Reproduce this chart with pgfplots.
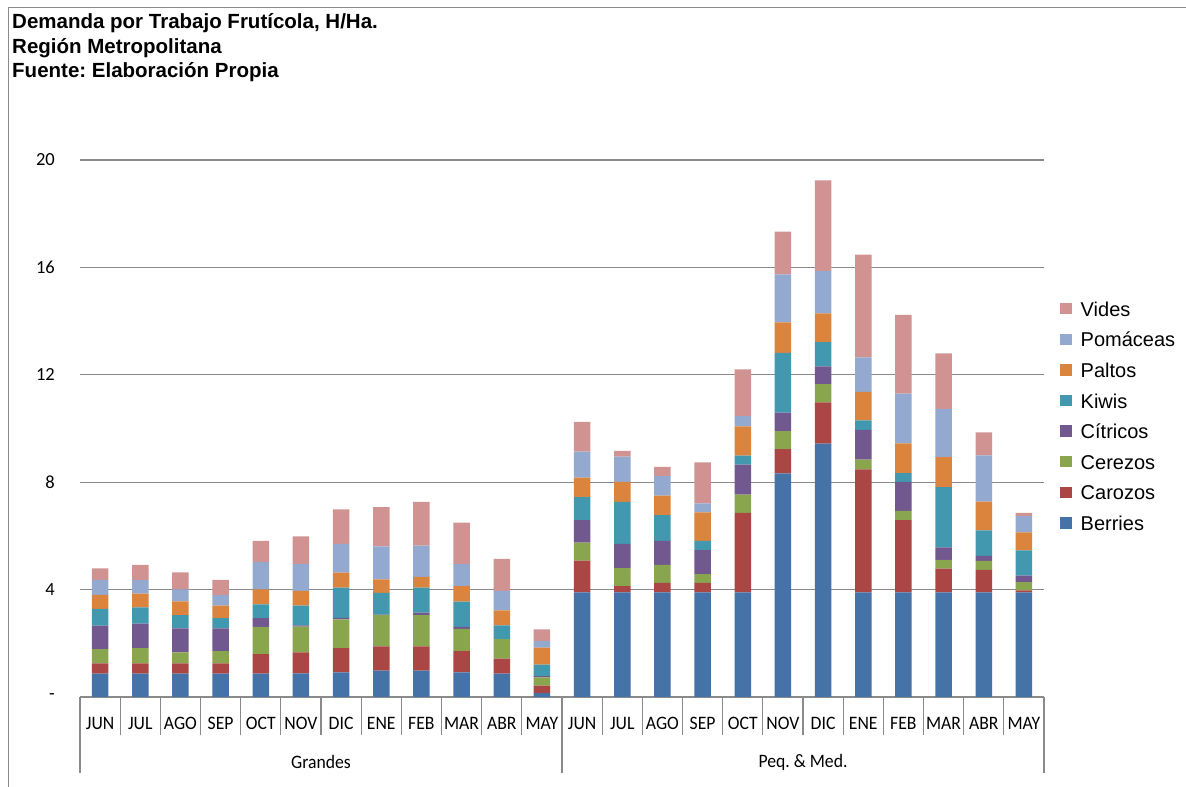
\documentclass[border=0pt]{standalone}
\usepackage{pgfplots}
\usepackage{pgfplotstable}
\pgfplotsset{compat=1.18}
\usepackage{fontspec}
\setmainfont{Liberation Sans}
\newfontfamily\carlito{Carlito}
\frenchspacing
\definecolor{cB}{HTML}{4572A7}
\definecolor{cCar}{HTML}{AA4643}
\definecolor{cCer}{HTML}{89A54E}
\definecolor{cCit}{HTML}{71588F}
\definecolor{cK}{HTML}{4198AF}
\definecolor{cP}{HTML}{DB843D}
\definecolor{cPom}{HTML}{93A9CF}
\definecolor{cV}{HTML}{D19392}
\definecolor{gridgray}{HTML}{8A8A8A}
\pgfplotstableread{
x  B    Car  Cer  Cit  K    P    Pom  V
0  0.87 0.38 0.53 0.88 0.62 0.52 0.56 0.43
1  0.87 0.38 0.57 0.91 0.61 0.51 0.51 0.56
2  0.87 0.38 0.41 0.90 0.49 0.51 0.45 0.63
3  0.87 0.38 0.46 0.85 0.38 0.46 0.39 0.57
4  0.87 0.73 1.01 0.33 0.51 0.56 1.02 0.78
5  0.88 0.78 0.96 0.05 0.73 0.55 1.01 1.02
6  0.92 0.90 1.07 0.06 1.12 0.56 1.07 1.29
7  0.98 0.91 1.16 0.02 0.81 0.50 1.23 1.46
8  0.98 0.91 1.16 0.09 0.93 0.40 1.17 1.63
9  0.92 0.79 0.83 0.07 0.94 0.58 0.83 1.53
10 0.87 0.56 0.73 0.00 0.51 0.56 0.72 1.19
11 0.14 0.28 0.31 0.05 0.43 0.63 0.24 0.44
12 3.90 1.18 0.67 0.84 0.85 0.73 0.97 1.11
13 3.90 0.23 0.67 0.90 1.57 0.74 0.94 0.22
14 3.90 0.35 0.67 0.89 0.96 0.73 0.73 0.34
15 3.90 0.35 0.33 0.89 0.34 1.07 0.33 1.53
16 3.90 2.96 0.68 1.11 0.34 1.09 0.38 1.74
17 8.33 0.90 0.67 0.69 2.23 1.13 1.79 1.59
18 9.44 1.53 0.68 0.66 0.91 1.07 1.58 3.37
19 3.90 4.58 0.36 1.11 0.35 1.06 1.29 3.83
20 3.90 2.69 0.34 1.08 0.33 1.11 1.85 2.93
21 3.90 0.88 0.33 0.46 2.25 1.11 1.80 2.07
22 3.90 0.83 0.34 0.19 0.95 1.07 1.72 0.86
23 3.90 0.07 0.31 0.24 0.94 0.67 0.61 0.12
}\data
\begin{document}
\begin{tikzpicture}
\path[use as bounding box] (0pt,0pt) rectangle (1186pt,787pt);
\draw[gridgray, line width=1pt] (8pt,0pt) -- (8pt,779pt) -- (1186pt,779pt);
\node[anchor=base west, inner sep=0pt, font=\bfseries\fontsize{20.5}{24.5}\selectfont] at (12pt,758pt) {Demanda por Trabajo Frutícola, H/Ha.};
\node[anchor=base west, inner sep=0pt, font=\bfseries\fontsize{20.5}{24.5}\selectfont] at (12pt,733.5pt) {Región Metropolitana};
\node[anchor=base west, inner sep=0pt, font=\bfseries\fontsize{20.5}{24.5}\selectfont] at (12pt,709pt) {Fuente: Elaboración Propia};
\begin{axis}[
  at={(80pt,90pt)}, anchor=south west,
  scale only axis, width=964pt, height=537pt,
  xmin=-0.5, xmax=23.5, ymin=0, ymax=20,
  ybar stacked, bar width=16.5pt,
  clip=false,
  axis line style={draw=none},
  tick pos=left,
  tick align=outside,
  ytick={0,4,8,12,16,20},
  yticklabels={{-\hspace{12pt}},4,8,12,16,20},
  ytick style={draw=none},
  yticklabel style={anchor=east, inner sep=0pt, xshift=-25pt, font=\carlito\fontsize{18.5}{20}\selectfont},
  ymajorgrids,
  grid style={gridgray, line width=1.2pt},
  xtick={0,...,23},
  xticklabels={JUN,JUL,AGO,SEP,OCT,NOV,DIC,ENE,FEB,MAR,ABR,MAY,JUN,JUL,AGO,SEP,OCT,NOV,DIC,ENE,FEB,MAR,ABR,MAY},
  major tick length=0pt,
  minor xtick={-0.5,0.5,...,23.5},
  minor tick length=38pt,
  minor x tick style={gridgray, line width=1.2pt},
  xticklabel style={anchor=center, inner sep=0pt, yshift=-26pt, xscale=0.93, font=\carlito\fontsize{19}{20}\selectfont},
  /pgf/number format/assume math mode=true,
  legend style={draw=none, fill=none, at={(axis description cs:1.0166,0.7364)}, anchor=north west,
    inner sep=0pt, row sep=12.1pt, font=\fontsize{20}{24}\selectfont,
    nodes={inner sep=0pt, text height=14.5pt, text depth=4pt}},
  legend cell align=left,
  /tikz/every odd column/.append style={column sep=9pt},
  legend image code/.code={\fill[#1] (0pt,-3.5pt) rectangle (11.5pt,8pt);},
  reverse legend,
]
\addplot[fill=cB, draw=none] table[x=x,y=B]{\data};
\addplot[fill=cCar, draw=none] table[x=x,y=Car]{\data};
\addplot[fill=cCer, draw=none] table[x=x,y=Cer]{\data};
\addplot[fill=cCit, draw=none] table[x=x,y=Cit]{\data};
\addplot[fill=cK, draw=none] table[x=x,y=K]{\data};
\addplot[fill=cP, draw=none] table[x=x,y=P]{\data};
\addplot[fill=cPom, draw=none] table[x=x,y=Pom]{\data};
\addplot[fill=cV, draw=none] table[x=x,y=V]{\data};
\legend{Berries,Carozos,Cerezos,Cítricos,Kiwis,Paltos,Pomáceas,Vides}
\draw[gridgray, line width=1.2pt] (axis cs:-0.5,0) -- ++(0pt,-76pt);
\draw[gridgray, line width=1.2pt] (axis cs:11.5,0) -- ++(0pt,-76pt);
\draw[gridgray, line width=1.2pt] (axis cs:23.5,0) -- ++(0pt,-76pt);
\node[inner sep=0pt, xscale=0.93, font=\carlito\fontsize{19}{20}\selectfont] at (axis cs:5.5,0) [yshift=-65pt] {Grandes};
\node[inner sep=0pt, xscale=0.93, font=\carlito\fontsize{19}{20}\selectfont] at (axis cs:17.5,0) [yshift=-65pt] {Peq. \& Med.};
\end{axis}
\end{tikzpicture}
\end{document}
